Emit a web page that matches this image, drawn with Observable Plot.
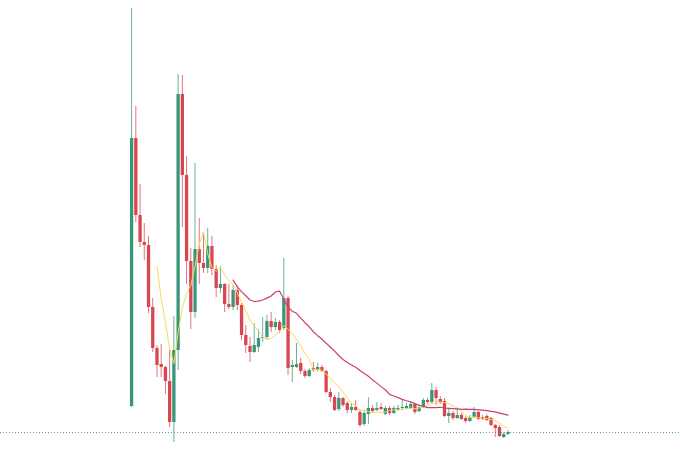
<!DOCTYPE html>
<html>
<head>
<meta charset="utf-8">
<script src="https://cdn.jsdelivr.net/npm/d3@7"></script>
<script src="https://cdn.jsdelivr.net/npm/@observablehq/plot@0.6"></script>
<style>
  html, body { margin: 0; padding: 0; background: #ffffff; }
  #chart svg { display: block; }
</style>
</head>
<body>
<div id="chart"></div>
<script>
// Daily candles (price units)
const open = [54,322,245,218,215,153,112,96,93,79,38,110,366,285,199,148,211,197,192,214,191,172,176,156,153,170,155,125,114,108,113,122,123,139,133,138,132,162,93,93,97,89,84,92,90,93,89,68,63,51,62,57,50,53,48,36,46,52,50,53,46,52,47,50,52,52,52,56,49,53,60,58,70,61,59,44,47,42,45,42,39,43,48,43,44,42,35,33,23,26];
const high = [452,354,276,237,224,162,115,116,94,110,144,386,385,304,212,297,242,228,232,224,195,194,177,176,175,175,157,135,123,137,131,143,145,148,142,140,202,164,100,117,102,91,92,98,97,95,90,72,65,68,63,59,57,60,50,49,63,55,58,57,54,54,54,55,61,57,58,57,55,62,62,77,73,64,62,52,49,52,47,44,45,53,49,45,46,43,36,35,28,30];
const low = [53,238,213,200,147,108,83,83,66,33,18,90,233,176,131,142,176,187,187,185,163,167,148,151,150,150,120,107,98,107,108,118,120,128,130,127,130,85,78,92,86,82,83,88,89,88,67,58,49,49,53,47,47,49,33,34,36,47,49,50,45,45,46,49,50,51,51,46,48,52,56,56,55,56,43,37,40,41,40,37,38,42,40,40,39,34,23,23,22,25];
const close = [322,245,218,215,153,112,95,93,79,38,110,366,285,199,148,211,197,192,214,191,172,176,156,153,170,155,125,115,108,115,122,123,139,133,138,130,162,92,95,96,89,84,90,90,93,89,68,63,50,62,55,50,53,50,35,47,52,49,52,51,52,47,52,52,53,54,56,48,53,60,58,70,62,58,44,47,42,45,41,39,43,48,41,41,40,35,32,24,26,28];
const maShort = 7;
const maLong = 25;

const upColor = "#3a9679";
const downColor = "#d9464f";

const data = close.map((c, i) => ({i, open: open[i], high: high[i], low: low[i], close: c}));
const last = data[data.length - 1];

const chart = Plot.plot({
  width: 680,
  height: 475,
  marginTop: 0,
  marginBottom: 15,
  marginLeft: 0,
  marginRight: 0,
  style: {background: "#ffffff"},
  x: {domain: [-31, 129.8], axis: null},
  y: {domain: [0, 460], axis: null},
  marks: [
    Plot.ruleY([last.close], {stroke: upColor, strokeWidth: 1, strokeDasharray: "1,2", strokeOpacity: 0.85}),
    Plot.ruleX(data, {
      x: "i", y1: "low", y2: "high",
      stroke: d => d.close >= d.open ? upColor : downColor,
      strokeWidth: 1, strokeOpacity: 0.75
    }),
    Plot.ruleX(data, {
      x: "i", y1: "open", y2: "close",
      stroke: d => d.close >= d.open ? upColor : downColor,
      strokeWidth: 3.3
    }),
    Plot.lineY(data, Plot.windowY({k: maShort, anchor: "end", strict: true}, {x: "i", y: "close", stroke: "#f3dc5c", strokeWidth: 1})),
    Plot.lineY(data, Plot.windowY({k: maLong, anchor: "end", strict: true}, {x: "i", y: "close", stroke: "#c9416d", strokeWidth: 1.2}))
  ]
});
document.getElementById("chart").appendChild(chart);
</script>
</body>
</html>
